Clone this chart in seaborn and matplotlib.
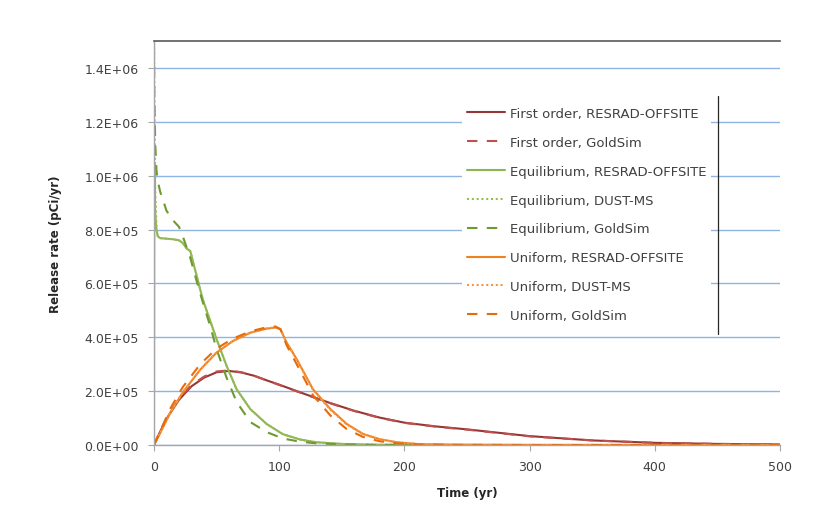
import matplotlib
matplotlib.use("Agg")
import matplotlib.pyplot as plt
from matplotlib.ticker import FuncFormatter, MultipleLocator
import seaborn as sns

# First order release (pCi/yr)
first_t = [0, 5, 10, 20, 30, 40, 50, 60, 70, 80, 90, 100, 120, 140, 160, 180, 200, 225, 250, 300, 350, 400, 450, 500]
first_resrad = [0, 0.5e5, 0.97e5, 1.68e5, 2.18e5, 2.5e5, 2.7e5, 2.75e5, 2.69e5, 2.57e5, 2.4e5, 2.24e5, 1.9e5, 1.57e5, 1.27e5, 1.02e5, 0.83e5, 0.69e5, 0.58e5, 0.33e5, 0.17e5, 0.08e5, 0.04e5, 0.02e5]
first_goldsim = [0, 0.52e5, 1.0e5, 1.72e5, 2.22e5, 2.54e5, 2.73e5, 2.77e5, 2.7e5, 2.57e5, 2.4e5, 2.23e5, 1.89e5, 1.56e5, 1.26e5, 1.01e5, 0.82e5, 0.68e5, 0.57e5, 0.32e5, 0.17e5, 0.08e5, 0.04e5, 0.02e5]

# Equilibrium release
eq_t = [0, 0.3, 1, 2, 3, 5, 10, 15, 20, 23, 26, 29, 34, 39, 45, 50, 58, 66, 77, 90, 103, 117, 130, 150, 175, 200, 250, 300, 400, 500]
eq_resrad = [0, 1.05e6, 8.6e5, 8.0e5, 7.75e5, 7.68e5, 7.66e5, 7.64e5, 7.6e5, 7.5e5, 7.3e5, 7.2e5, 6.3e5, 5.4e5, 4.6e5, 3.93e5, 2.94e5, 2.07e5, 1.33e5, 0.78e5, 0.4e5, 0.2e5, 0.1e5, 0.04e5, 0.01e5, 0.005e5, 0, 0, 0, 0]
eq_dustms = [1.6e6, 1.3e6, 9.5e5, 8.1e5, 7.75e5, 7.68e5, 7.66e5, 7.64e5, 7.6e5, 7.5e5, 7.3e5, 7.2e5, 6.3e5, 5.4e5, 4.6e5, 3.93e5, 2.94e5, 2.07e5, 1.33e5, 0.78e5, 0.4e5, 0.2e5, 0.1e5, 0.04e5, 0.01e5, 0.005e5, 0, 0, 0, 0]
eq_goldsim = [1.48e6, 1.3e6, 1.12e6, 1.02e6, 9.8e5, 9.4e5, 8.7e5, 8.35e5, 8.1e5, 7.75e5, 7.35e5, 6.95e5, 6.1e5, 5.3e5, 4.4e5, 3.56e5, 2.5e5, 1.6e5, 0.85e5, 0.48e5, 0.24e5, 0.12e5, 0.06e5, 0.02e5, 0.005e5, 0, 0, 0, 0, 0]

# Uniform release
uni_t = [0, 5, 13, 23, 37, 50, 63, 77, 90, 97, 101, 106, 114, 127, 141, 154, 167, 180, 194, 212, 240, 300, 400, 500]
uni_resrad = [0, 0.45e5, 1.2e5, 1.95e5, 2.8e5, 3.43e5, 3.86e5, 4.17e5, 4.32e5, 4.36e5, 4.3e5, 3.8e5, 3.19e5, 2.07e5, 1.33e5, 0.78e5, 0.41e5, 0.22e5, 0.1e5, 0.03e5, 0.01e5, 0, 0, 0]
uni_dustms = [0, 0.45e5, 1.2e5, 1.96e5, 2.8e5, 3.44e5, 3.86e5, 4.17e5, 4.33e5, 4.37e5, 4.3e5, 3.8e5, 3.17e5, 2.05e5, 1.3e5, 0.76e5, 0.4e5, 0.21e5, 0.1e5, 0.03e5, 0.01e5, 0, 0, 0]
uni_goldsim = [0, 0.5e5, 1.35e5, 2.15e5, 3.0e5, 3.58e5, 3.95e5, 4.22e5, 4.37e5, 4.4e5, 4.3e5, 3.7e5, 3.0e5, 1.85e5, 1.09e5, 0.59e5, 0.3e5, 0.14e5, 0.06e5, 0.02e5, 0.005e5, 0, 0, 0]

series = [
    ("First order, RESRAD-OFFSITE", first_t, first_resrad, "#953735", "-"),
    ("First order, GoldSim", first_t, first_goldsim, "#C0504D", (0, (5, 4.5))),
    ("Equilibrium, RESRAD-OFFSITE", eq_t, eq_resrad, "#8DB554", "-"),
    ("Equilibrium, DUST-MS", eq_t, eq_dustms, "#9BBB59", (0, (1, 1.3))),
    ("Equilibrium, GoldSim", eq_t, eq_goldsim, "#6F9A30", (0, (5, 4.5))),
    ("Uniform, RESRAD-OFFSITE", uni_t, uni_resrad, "#F0811F", "-"),
    ("Uniform, DUST-MS", uni_t, uni_dustms, "#F79646", (0, (1, 1.3))),
    ("Uniform, GoldSim", uni_t, uni_goldsim, "#E46C0A", (0, (5, 4.5))),
]

sns.set_style("white")
plt.rcParams["font.family"] = ["DejaVu Sans"]

fig, ax = plt.subplots(figsize=(8.35, 5.06), dpi=100)
fig.subplots_adjust(left=0.1844, right=0.934, top=0.917, bottom=0.1186)

for label, t, v, color, ls in series:
    sns.lineplot(x=t, y=v, ax=ax, color=color, linestyle=ls, linewidth=1.5, label=label)

ax.set_xlim(0, 500)
ax.set_ylim(0, 1.5e6)
ax.xaxis.set_major_locator(MultipleLocator(100))
ax.yaxis.set_major_locator(MultipleLocator(2e5))
ax.yaxis.set_major_formatter(FuncFormatter(lambda v, p: f"{v:.1E}"))
ax.grid(axis="y", color="#8EB4E3", linewidth=1)
ax.grid(axis="x", visible=False)
ax.set_axisbelow(True)

for side in ["left", "bottom"]:
    ax.spines[side].set_color("#A6A6A6")
    ax.spines[side].set_linewidth(1)
ax.spines["right"].set_visible(False)
ax.spines["top"].set_color("#595959")
ax.spines["top"].set_linewidth(1.2)

ax.tick_params(axis="both", labelsize=9, colors="#404040", length=4, width=0.8,
               direction="out", left=True, bottom=True)
ax.tick_params(axis="both", color="#A6A6A6")
ax.tick_params(axis="x", pad=7)
ax.tick_params(axis="y", pad=7)
ax.set_xlabel("Time (yr)", fontsize=8.5, fontweight="bold", color="#262626", labelpad=9)
ax.set_ylabel("Release rate (pCi/yr)", fontsize=8.5, fontweight="bold", color="#262626", labelpad=16)

leg = ax.legend(loc="upper left", bbox_to_anchor=(0.481, 0.866), fontsize=9.5,
                frameon=True, fancybox=False, facecolor="white", edgecolor="none",
                framealpha=1, handlelength=2.85, labelspacing=1.2, borderpad=0.4,
                handletextpad=0.38)
for txt in leg.get_texts():
    txt.set_color("#404040")
# thin vertical rule on the right side of the legend box
ax.plot([0.901, 0.901], [0.275, 0.864], transform=ax.transAxes, color="#262626",
        linewidth=0.9, zorder=6)

fig.savefig("out.png", dpi=100)
